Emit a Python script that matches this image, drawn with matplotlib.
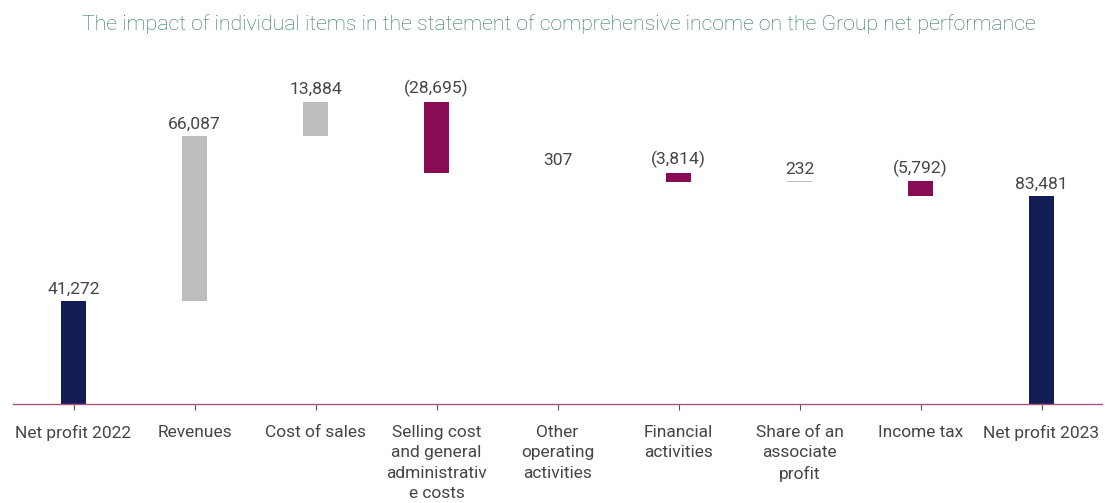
import matplotlib
matplotlib.use("Agg")
import matplotlib.pyplot as plt

plt.rcParams["font.family"] = ["Roboto", "DejaVu Sans"]

categories = [
    "Net profit 2022", "Revenues", "Cost of sales",
    "Selling cost\nand general\nadministrativ\ne costs",
    "Other\noperating\nactivities", "Financial\nactivities",
    "Share of an\nassociate\nprofit", "Income tax", "Net profit 2023",
]
changes = [41272, 66087, 13884, -28695, 307, -3814, 232, -5792, 83481]
labels = ["41,272", "66,087", "13,884", "(28,695)", "307", "(3,814)", "232", "(5,792)", "83,481"]
kinds = ["total", "delta", "delta", "delta", "delta", "delta", "delta", "delta", "total"]

NAVY = "#141d55"
GREY = "#bdbdbd"
MAROON = "#8a0b55"
TEXT = "#454545"

fig = plt.figure(figsize=(11.05, 5.03), dpi=100)
ax = fig.add_axes([0.0118, 0.1968, 0.9855, 0.684])

running = 0
for i, (val, kind, lab) in enumerate(zip(changes, kinds, labels)):
    if kind == "total":
        bottom, height, color = 0, val, NAVY
        running = val
    else:
        if val >= 0:
            bottom, height, color = running, val, GREY
        else:
            bottom, height, color = running + val, -val, MAROON
        running += val
    ax.bar(i, height, bottom=bottom, width=0.21, color=color)
    top = bottom + height
    ax.text(i, top + 1800, lab, ha="center", va="bottom", fontsize=12.6, color=TEXT)

ax.set_xlim(-0.5, 8.5)
ax.set_ylim(0, 138000)
ax.set_xticks(range(len(categories)))
ax.set_xticklabels(categories, fontsize=12.5, color=TEXT, linespacing=1.45)
ax.tick_params(axis="x", length=4, width=0.8, color="#555555", pad=11)
ax.set_yticks([])
for s in ["top", "right", "left"]:
    ax.spines[s].set_visible(False)
ax.spines["bottom"].set_color("#a8567f")
ax.spines["bottom"].set_linewidth(1.0)

fig.text(0.506, 0.953, "The impact of individual items in the statement of comprehensive income on the Group net performance",
         ha="center", va="center", fontsize=15.3, color="#2a7359", fontweight="light")

fig.savefig("out.png", dpi=100)
